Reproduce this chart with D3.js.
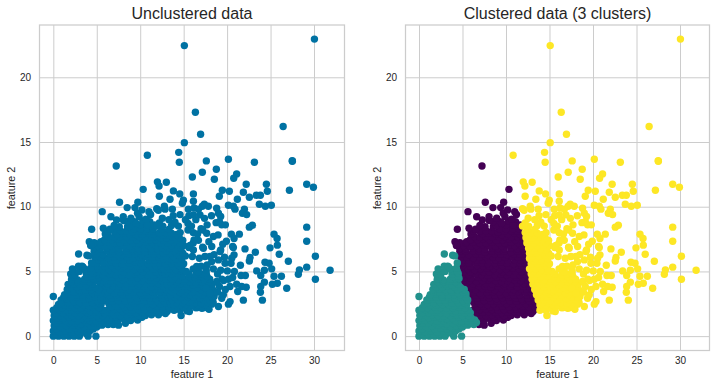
<!DOCTYPE html>
<html>
<head>
<meta charset="utf-8">
<script src="https://cdn.jsdelivr.net/npm/d3@7"></script>
<style>
body { margin: 0; background: #fff; }
text { font-family: "Liberation Sans", Arial, sans-serif; fill: #262626; }
</style>
</head>
<body>
<svg id="chart" width="716" height="388"></svg>
<script>
// values, [feature 1, feature 2]
var tealPoints = [
  [0,0],[.6,0],[1.2,0],[1.8,0],[2.4,0],[3,0],[4,0],[4.9,0],
  [.3,.18],[1,.2],[1.7,.15],[2.4,.2],[3.1,.18],[3.8,.2],
  [0,.4],[.7,.35],[1.4,.4],[2.1,.3],[2.8,.4],[3.5,.35],[4.2,.4],
  [.4,.58],[1.1,.6],[1.8,.55],[2.5,.6],[3.2,.58],[3.9,.6],[4.6,.55],
  [.1,.8],[.8,.75],[1.5,.8],[2.2,.85],[2.9,.8],[3.6,.75],[4.3,.8],[5,.7],[5.6,.85],[6.3,.9],
  [.4,1],[1.1,1],[1.8,1.05],[2.5,1],[3.2,.95],[3.9,1],[4.6,1.05],[5.3,1],[6,1],[6.6,1.05],
  [0,1.2],[.7,1.25],[1.4,1.2],[2.1,1.15],[2.8,1.2],[3.5,1.25],[4.2,1.2],[4.9,1.15],[5.6,1.2],[6.4,1.25],
  [.4,1.4],[1.1,1.4],[1.8,1.45],[2.5,1.4],[3.2,1.35],[3.9,1.4],[4.6,1.45],[5.3,1.4],[6,1.4],
  [.1,1.6],[.8,1.6],[1.5,1.65],[2.2,1.6],[2.9,1.55],[3.6,1.6],[4.3,1.65],[5,1.6],[5.7,1.6],
  [.4,1.8],[1.1,1.8],[1.8,1.85],[2.5,1.8],[3.2,1.75],[3.9,1.8],[4.6,1.85],[5.3,1.8],[5.9,1.8],
  [0,2],[.7,2.05],[1.4,2],[2.1,2],[2.8,2.05],[3.5,2],[4.2,1.95],[4.9,2],[5.7,2],
  [.4,2.2],[1,2.2],[1.8,2.25],[2.5,2.2],[3.2,2.15],[3.9,2.2],[4.6,2.25],[5.3,2.2],
  [.6,2.45],[1.3,2.4],[2,2.4],[2.7,2.45],[3.4,2.4],[4.1,2.35],[4.8,2.4],[5.5,2.45],
  [1,2.6],[1.7,2.6],[2.4,2.65],[3.1,2.6],[3.8,2.55],[4.5,2.6],[5.2,2.6],
  [.9,2.8],[1.6,2.85],[2.3,2.8],[3,2.8],[3.7,2.85],[4.4,2.8],[5.1,2.75],[5.6,2.8],
  [1.2,3],[2,3],[2.7,3.05],[3.4,3],[4.1,2.95],[4.8,3],[5.4,3],
  [0,3.06],[1.3,3.2],[2,3.25],[2.7,3.2],[3.4,3.15],[4.1,3.2],[4.8,3.2],[5.4,3.25],
  [1.7,3.4],[2.4,3.4],[3.1,3.45],[3.8,3.4],[4.5,3.35],[5.1,3.4],
  [1.6,3.6],[2.3,3.65],[3,3.6],[3.7,3.55],[4.4,3.6],[5.2,3.6],
  [2,3.8],[2.7,3.8],[3.4,3.85],[4.1,3.8],[4.8,3.75],
  [1.7,4],[2.4,4.05],[3.1,4],[3.8,3.95],[4.5,4],
  [2.1,4.2],[2.8,4.2],[3.5,4.25],[4.2,4.2],
  [2.1,4.4],[2.8,4.35],[3.6,4.4],[4.3,4.4],[4.6,4.45],
  [2.4,4.6],[3.9,4.6],[4.5,4.65],
  [2,4.8],[2.5,4.75],[3.8,4.8],[4.5,4.85],
  [2.3,5],[3,5],[3.9,5.05],[4.4,5],
  [2.2,5.2],[2.9,5.4],[3.3,5.4],[3.6,5.2],[4.3,5.25],[3.4,5.35],[4.4,5.65],
  [2.91,6.35],[3.87,6.25],[4.1,6.2]
];

var purplePoints = [
  [6.9,.9],[7.5,.85],[8.3,1],
  [6.8,1.25],[7.5,1.25],[8.2,1.3],[8.9,1.2],[9.7,1.25],
  [7.1,1.45],[7.9,1.45],[8.6,1.5],[9.4,1.4],[10.2,1.45],
  [6.3,1.65],[7,1.65],[7.7,1.6],[8.4,1.65],[9.1,1.7],[9.8,1.6],[10.6,1.6],[11.3,1.65],[12.1,1.65],[12.9,1.75],
  [6.6,1.85],[7.3,1.85],[8,1.9],[8.8,1.85],[9.5,1.8],[10.2,1.85],[10.9,1.9],[11.6,1.85],[12.4,1.85],[13.1,1.9],
  [6.3,2.05],[7,2.05],[7.7,2.1],[8.4,2.05],[9.1,2],[9.8,2.05],[10.5,2.05],[11.2,2.1],[11.9,2],[12.6,2.05],[13.4,2.1],
  [6.7,2.28],[7.4,2.3],[8.2,2.25],[8.9,2.28],[9.6,2.3],[10.4,2.25],[11.1,2.28],[11.9,2.3],[12.6,2.25],[13.3,2.28],
  [6.4,2.5],[7.1,2.5],[7.9,2.45],[8.6,2.5],[9.3,2.55],[10.1,2.5],[10.8,2.5],[11.5,2.45],[12.3,2.5],[13,2.55],[13.5,2.5],
  [6.1,2.72],[6.8,2.7],[7.5,2.75],[8.3,2.72],[9,2.7],[9.7,2.75],[10.5,2.72],[11.2,2.7],[11.9,2.75],[12.7,2.72],[13.4,2.7],
  [5.9,2.95],[6.7,2.95],[7.4,3],[8.1,2.95],[8.9,2.9],[9.6,2.95],[10.3,3],[11.1,2.95],[11.8,2.9],[12.5,2.95],[13.2,3],
  [5.7,3.17],[6.5,3.15],[7.2,3.2],[8,3.17],[8.7,3.15],[9.4,3.2],[10.2,3.17],[10.9,3.15],[11.6,3.2],[12.4,3.17],[13.1,3.15],
  [5.5,3.4],[6.3,3.4],[7,3.35],[7.8,3.4],[8.5,3.45],[9.2,3.4],[10,3.35],[10.7,3.4],[11.4,3.45],[12.2,3.4],[12.9,3.4],
  [5.7,3.62],[6.5,3.6],[7.3,3.65],[8,3.62],[8.7,3.6],[9.5,3.65],[10.2,3.62],[10.9,3.6],[11.7,3.65],[12.4,3.62],[13,3.6],
  [5.4,3.85],[6.1,3.85],[6.9,3.9],[7.6,3.85],[8.3,3.8],[9.1,3.85],[9.8,3.9],[10.5,3.85],[11.3,3.8],[12,3.85],[12.7,3.85],
  [5.4,4.07],[6.2,4.05],[6.9,4.1],[7.7,4.07],[8.4,4.05],[9.1,4.1],[9.9,4.07],[10.6,4.05],[11.3,4.1],[12.1,4.07],[12.8,4.05],
  [5.1,4.3],[5.8,4.3],[6.6,4.25],[7.3,4.3],[8,4.35],[8.8,4.3],[9.5,4.25],[10.2,4.3],[11,4.35],[11.7,4.3],[12.5,4.3],
  [5.2,4.52],[6,4.5],[6.8,4.55],[7.5,4.52],[8.2,4.5],[9,4.55],[9.7,4.52],[10.4,4.5],[11.2,4.55],[11.9,4.52],[12.6,4.5],
  [5,4.75],[5.7,4.75],[6.5,4.8],[7.2,4.75],[7.9,4.7],[8.7,4.75],[9.4,4.8],[10.1,4.75],[10.9,4.7],[11.6,4.75],[12.3,4.75],
  [5.1,4.97],[5.9,4.95],[6.7,5],[7.4,4.97],[8.1,4.95],[8.9,5],[9.6,4.97],[10.3,4.95],[11.1,5],[11.8,4.97],[12.5,4.95],
  [4.9,5.2],[5.6,5.2],[6.4,5.15],[7.1,5.2],[7.8,5.25],[8.6,5.2],[9.3,5.15],[10,5.2],[10.8,5.25],[11.5,5.2],[12.3,5.2],
  [5,5.42],[5.9,5.4],[6.7,5.45],[7.4,5.42],[8.1,5.4],[8.9,5.45],[9.6,5.42],[10.3,5.4],[11.1,5.45],[11.8,5.42],[12.4,5.4],
  [5,5.65],[5.7,5.65],[6.5,5.7],[7.2,5.65],[7.9,5.6],[8.7,5.65],[9.4,5.7],[10.1,5.65],[10.9,5.6],[11.6,5.65],[12.2,5.65],
  [5,5.87],[5.8,5.85],[6.6,5.9],[7.3,5.87],[8,5.85],[8.8,5.9],[9.5,5.87],[10.2,5.85],[11,5.9],[11.7,5.87],[12.4,5.85],
  [4.8,6.1],[5.5,6.1],[6.3,6.05],[7,6.1],[7.7,6.15],[8.5,6.1],[9.2,6.05],[9.9,6.1],[10.7,6.15],[11.4,6.1],[12.2,6.1],
  [4.9,6.32],[5.7,6.3],[6.5,6.35],[7.2,6.32],[7.9,6.3],[8.7,6.35],[9.4,6.32],[10.1,6.3],[10.9,6.35],[11.6,6.32],[12.3,6.3],
  [4.7,6.55],[5.4,6.55],[6.2,6.6],[6.9,6.55],[7.6,6.5],[8.4,6.55],[9.1,6.6],[9.8,6.55],[10.6,6.5],[11.3,6.55],[12.1,6.55],
  [4.7,6.77],[5.4,6.75],[6.2,6.8],[6.9,6.77],[7.6,6.75],[8.4,6.8],[9.1,6.77],[9.8,6.75],[10.6,6.8],[11.3,6.77],[12,6.75],
  [4.3,7],[5.1,7],[5.9,6.95],[6.6,7],[7.3,7.05],[8.1,7],[8.8,6.95],[9.5,7],[10.3,7.05],[11,7],[11.8,7],
  [4.7,7.22],[5.4,7.2],[6.2,7.25],[7,7.22],[7.7,7.2],[8.4,7.25],[9.2,7.22],[9.9,7.2],[10.6,7.25],[11.4,7.22],[12,7.2],
  [4.14,7.3],[4.33,7.05],[5.48,7.3],[5.9,7.45],[6.7,7.45],[7.4,7.5],[8.1,7.45],[8.9,7.4],[9.6,7.45],[10.3,7.5],[11.1,7.45],[11.8,7.45],
  [6.4,7.67],[7,7.65],[7.7,7.7],[8.4,7.67],[9.2,7.65],[9.9,7.7],[10.6,7.67],[11.4,7.65],[11.9,7.7],
  [5.98,7.9],[7.3,7.9],[8,7.95],[8.8,7.9],[9.5,7.85],[10.2,7.9],[11,7.95],[11.6,7.9],
  [6.3,8.1],[7,8.1],[7.7,8.15],[8.4,8.1],[9.1,8.05],[9.8,8.1],[10.6,8.15],[11.3,8.1],
  [4.41,8.26],[5.75,8.33],[6.51,8.26],[7.59,8.46],[8.54,8.46],[9.3,8.3],[10.46,8.46],[10,8.3],[10.8,8.3],[11.5,8.3],
  [7,8.55],[8.9,8.55],[10,8.6],[11.2,8.55],[8.5,8.85],[9.3,8.85],[10.3,8.9],[11.1,8.85],
  [9.5,8.72],[10.84,8.59],[11.61,8.59],[8.08,8.93],[7.28,8.98],[6.63,9.23],[8.05,9.23],[8.93,9.11],[9.88,9.23],[10.65,9.03],
  [5.63,9.62],[9.69,9.49],[10.19,9.75],[11,9.62],[8.5,9.93],[9.39,9.93],[11.2,9.4],
  [7.62,10.34],[9.73,10.34],[7.24,13.15],[10.34,11.34]
];

var yellowPoints = [
  [14.7,1.6],[13.9,2],[14.6,2],[15.4,1.95],[15.66,1.9],[16.5,2.2],[17.92,2.08],[17.3,2.2],
  [14.2,2.2],[15,2.2],[15.7,2.25],[16.4,2.2],[17.1,2.15],[17.8,2.2],
  [13.9,2.4],[14.6,2.4],[15.3,2.45],[16,2.4],[16.7,2.4],[17.5,2.45],[18.23,2.47],[19,2.29],
  [14.2,2.6],[14.9,2.6],[15.6,2.65],[16.3,2.6],[17,2.55],[17.8,2.6],[18.4,2.6],
  [13.7,2.8],[14.4,2.8],[15.1,2.75],[15.9,2.8],[16.6,2.85],[17.3,2.8],[18,2.8],[18.5,3.06],
  [14,3],[14.7,3],[15.5,3.05],[16.2,3],[16.9,2.95],[17.6,3],[18.3,3],
  [13.5,3.2],[14.2,3.2],[15,3.25],[15.7,3.2],[16.4,3.15],[17.2,3.2],[17.9,3.25],[19.38,2.93],[19.57,3.19],
  [13.8,3.4],[14.6,3.4],[15.3,3.45],[16,3.4],[16.8,3.35],[17.5,3.4],[18.2,3.4],
  [13.3,3.6],[14,3.6],[14.8,3.55],[15.5,3.6],[16.2,3.65],[17,3.6],[17.7,3.6],[18.4,3.55],[19.11,3.83],
  [13.6,3.8],[14.4,3.8],[15.1,3.85],[15.8,3.8],[16.6,3.75],[17.3,3.8],[18,3.8],
  [13.1,4],[13.9,4],[14.6,4.05],[15.4,4],[16.1,3.95],[16.8,4],[17.5,4.05],[18.3,4],[18.8,4.22],
  [13.5,4.2],[14.2,4.2],[15,4.25],[15.7,4.2],[16.4,4.15],[17.1,4.2],[17.9,4.2],
  [13,4.4],[13.7,4.4],[14.4,4.35],[15.2,4.4],[16,4.45],[16.7,4.4],[17.4,4.35],[18,4.4],
  [13.3,4.6],[14,4.6],[14.8,4.65],[15.6,4.6],[16.3,4.55],[17.1,4.6],[17.7,4.6],
  [12.9,4.8],[13.6,4.8],[14.3,4.85],[15.6,4.8],[16.4,4.75],[17,4.8],[17.6,4.85],
  [13.2,5],[13.9,5],[14.6,5.05],[15.3,5],[16.7,4.95],
  [12.7,5.2],[13.4,5.2],[14.1,5.15],[14.8,5.2],[16.1,5.2],[16.5,5.38],
  [13.1,5.4],[13.8,5.4],[14.5,5.45],
  [12.9,5.6],[13.6,5.6],[14.3,5.65],[15,5.6],
  [13.2,5.8],[13.9,5.8],[14.6,5.85],
  [12.7,6],[13.4,6],[14.1,5.95],[14.8,6],
  [13,6.2],[13.8,6.2],[14.5,6.25],[15.2,6.2],[16,6.15],
  [12.7,6.4],[13.5,6.4],[14.2,6.45],[14.9,6.4],
  [13,6.6],[13.9,6.6],[14.6,6.65],
  [12.6,6.8],[13.3,6.8],[14,6.75],[14.7,6.8],[15.6,6.85],
  [12.9,7],[13.6,7],[14.3,7.05],[15,7],
  [12.4,7.2],[13.2,7.2],[13.9,7.25],[14.6,7.2],[16.1,7.2],
  [12.7,7.4],[13.5,7.4],[14.2,7.45],[14.9,7.4],[16.7,7.4],
  [12.3,7.6],[13,7.6],[13.8,7.65],[14.5,7.6],
  [12.6,7.8],[13.3,7.8],[14.2,7.85],
  [12.2,8],[12.9,8],[13.6,7.95],[14.6,8],[16.1,8],
  [12.5,8.25],[13.3,8.25],[15.5,8.2],[17,8.3],
  [11.9,8.5],[12.6,8.5],[13.6,8.55],[14.4,8.5],[15.9,8.5],
  [12.2,8.75],[14,8.8],[15.5,8.7],
  [12.55,9.11],[13.3,9],[15.2,9],[16.4,9],
  [13.8,9.3],[15.6,9.3],
  [14.58,9.39],[16.12,9.37],[16.88,9.37],[12.09,9.73],[11.9,9.85],[12.86,9.81],[13.7,9.81],[15.54,9.81],
  [17.9,7.3],[18.5,6.3],[17.7,5.5],[19.5,7.1],[19.7,6.1],[17,5.4],[17.6,5.1],[18.9,4.8],[19.4,4.4],[19.8,3.6],[18.9,3.4],[19.6,4.3],
  [17.7,8.6],[17.2,8.2],[16.6,7.9],[18.2,9.3],[17.4,9.1],[16.2,9.9],[16.7,9.8],
  [15.08,14.95],[10.82,13.98],[14.43,14.2],[14.5,13.43],[17.61,13.54],[20.15,13.67],[23.14,13.44],[27.51,13.51],
  [15.08,22.45],[30.05,22.95],[16.35,17.3],[16.95,15.6],[26.45,16.2],[27.5,13.55],
  [17.15,12.66],[18.76,12.9],[16,12.3],[18.53,12.12],[21.1,12.53],[20.76,12.2],[11.98,11.92],[12.17,11.6],[13.01,11.89],
  [22.2,11.74],[24.52,11.74],[29.16,11.74],[29.93,11.5],[13.82,11.22],[14.55,10.99],[12.2,10.81],[16.12,10.99],
  [19.45,11.27],[20.26,11.2],[21.87,11.12],[24.63,11.2],[27.17,11.27],[23.37,10.89],[23.83,10.89],[22.56,10.73],[19.11,10.81],
  [21.18,10.58],[13.43,10.58],[14.97,10.5],[16.12,10.42],[14.85,10.27],[23.71,10.19],[24.4,10.04],[25.09,10.11],[20.15,10.11],
  [17.38,10.19],[17.84,10.04],[17.15,10.04],[12.78,10.04],[20.72,10.04],[18.8,9.88],[20.91,9.81],[21.99,9.81],[21.76,9.5],[22.25,9.39],
  [19,9.5],[19.26,9.24],[18.73,8.77],[19.38,8.6],[19.8,8.6],[19.11,8.85],[22.91,8.57],[22.56,8.42],[29.16,8.42],[29.16,7.33],
  [25.4,7.88],[25.75,7.54],[25.78,7.03],[24.94,6.82],[22.06,6.74],[21.41,7.88],[20.49,7.88],[20.8,7.54],[19.92,7.33],[20.64,6.92],
  [18.96,7.82],[18.42,7.7],[17.65,7.95],[16.2,7.44],[15.73,7],[17.19,6.87],[18.23,6.92],[19.26,6.66],
  [23.25,6.48],[26,6.33],[27.05,5.79],[30.16,6.17],[22.64,6.07],[22.56,5.81],[21.53,5.48],[24.36,5.71],[24.83,5.63],[25.13,5.2],
  [24.29,5.09],[23.41,5.04],[23.87,4.68],[25.4,4.63],[26.25,4.63],[28.32,5.12],[28.2,4.78],[29.16,5.33],[31.85,5.09],[30.16,4.4],
  [26.86,3.7],[25.78,4.09],[25.21,4.01],[24.29,4.17],[23.87,3.83],[23.83,3.39],[24.06,2.78],[21.87,2.78],[22.2,3.78],[21.6,4.68],[22.1,4.68],
  [20.84,4.99],[20.03,5.04],[19.26,5.09],[20.45,5.63],[19.76,5.63],[20.8,6.28],[20.53,6.02],[19,5.89],[18.04,6.15],[18.23,5.76],
  [17.46,6.15],[16.81,6.02],[16.12,6.66],[17.27,6.79],[19.19,6.54],[20.72,6.84],[18.42,5.2],[20.15,4.4],[20.64,4.53],[21.1,4.01],
  [20.34,3.83],[21.22,3.45],[21.68,3.83],[20.34,2.67],[20.15,2.47],[17.58,3.7],[18.04,3.32]
];

var xTicks = [0, 5, 10, 15, 20, 25, 30];
var yTicks = [0, 5, 10, 15, 20];
var titles = ["Unclustered data", "Clustered data (3 clusters)"];

var svg = d3.select("#chart");
var top_ = 25, bottom_ = 350.5;

function panel(left, right, xDomain, title, layers) {
  var x = d3.scaleLinear().domain(xDomain).range([left, right]);
  var y = d3.scaleLinear().domain([-1.11, 24.04]).range([bottom_, top_]);
  var g = svg.append("g");

  var xAxis = g.append("g")
    .attr("transform", "translate(0," + bottom_ + ")")
    .call(d3.axisBottom(x).tickValues(xTicks).tickFormat(d3.format("d")).tickSize(-(bottom_ - top_)).tickPadding(6));
  var yAxis = g.append("g")
    .attr("transform", "translate(" + left + ",0)")
    .call(d3.axisLeft(y).tickValues(yTicks).tickFormat(d3.format("d")).tickSize(-(right - left)).tickPadding(8.5));
  [xAxis, yAxis].forEach(function(a) {
    a.select(".domain").remove();
    a.selectAll("line").attr("stroke", "#cccccc").attr("stroke-width", 1);
    a.selectAll("text").style("font-size", "10px").style("font-family", null);
  });

  layers.forEach(function(l) {
    g.append("g").selectAll("circle")
      .data(l.points)
      .enter()
      .append("circle")
      .attr("cx", function(d) { return x(d[0]); })
      .attr("cy", function(d) { return y(d[1]); })
      .attr("r", 3.7)
      .attr("fill", l.color);
  });

  g.append("rect")
    .attr("x", left).attr("y", top_)
    .attr("width", right - left).attr("height", bottom_ - top_)
    .attr("fill", "none").attr("stroke", "#cccccc").attr("stroke-width", 1.25);

  var mid = (left + right) / 2;
  g.append("text").attr("x", mid).attr("y", 18.5).attr("text-anchor", "middle")
    .style("font-size", "16px").text(title);
  g.append("text").attr("x", mid).attr("y", 378).attr("text-anchor", "middle")
    .style("font-size", "10.8px").text("feature 1");
  g.append("text").attr("transform", "translate(" + (left - 25) + ",188)rotate(-90)").attr("text-anchor", "middle")
    .style("font-size", "10.8px").text("feature 2");
}

var allPoints = purplePoints.concat(tealPoints, yellowPoints);

panel(39.5, 344.5, [-1.59, 33.51], titles[0], [
  { points: allPoints, color: "#0072a3" }
]);
panel(405.5, 709.5, [-1.55, 33.39], titles[1], [
  { points: purplePoints, color: "#440154" },
  { points: tealPoints, color: "#21918c" },
  { points: yellowPoints, color: "#fde725" }
]);
</script>
</body>
</html>
